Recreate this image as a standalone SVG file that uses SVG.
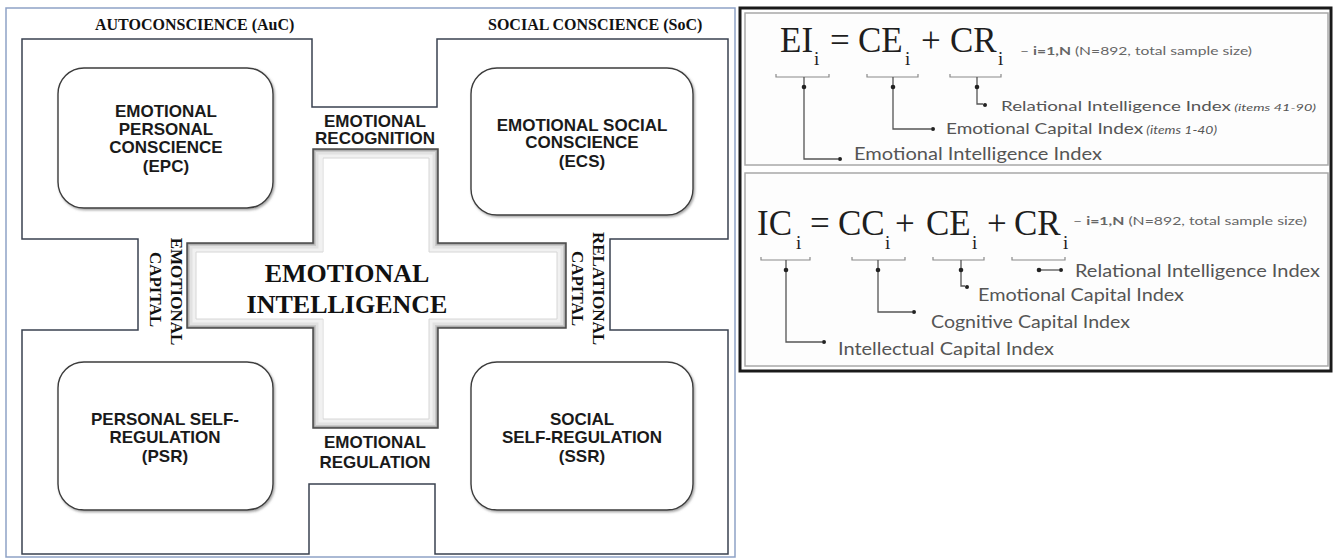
<svg xmlns="http://www.w3.org/2000/svg" width="1333" height="560" viewBox="0 0 1333 560">
<defs>
<style>
.hdr{font-family:"Liberation Serif",serif;font-weight:bold;font-size:16px;fill:#111}
.rot{font-family:"Liberation Serif",serif;font-weight:bold;font-size:17px;fill:#111;text-anchor:middle}
.big{font-family:"Liberation Serif",serif;font-weight:bold;font-size:26px;fill:#111;text-anchor:middle}
.nt{font-family:"Liberation Sans",sans-serif;font-weight:bold;font-size:17px;fill:#1a1a1a;text-anchor:middle}
.box{fill:#fff;stroke:#3c3c3c;stroke-width:1.4}
.outline{fill:#fff;stroke:#3a4250;stroke-width:1.5;stroke-linejoin:miter}
.eq{font-family:"Liberation Serif",serif;font-size:35px;fill:#1e1e1e}
.sub{font-family:"Liberation Serif",serif;font-size:19px;fill:#1e1e1e}
.note{font-family:"Lato",sans-serif;font-size:12px;fill:#666}
.lbl{font-family:"Lato",sans-serif;fill:#555}
.ln{fill:none;stroke:#555;stroke-width:1.3}
.br{fill:none;stroke:#8a8a8a;stroke-width:1.2}
.dot{fill:#222}
.cr{fill:none;stroke-linejoin:miter}
</style>
<filter id="sh" x="-10%" y="-10%" width="120%" height="120%">
<feDropShadow dx="1.2" dy="1.5" stdDeviation="1" flood-color="#8a8a8a" flood-opacity="0.8"/>
</filter>
<path id="crossShape" d="M313,149 H438 V243 H566 V328 H438 V428 H313 V328 H187 V243 H313 Z"/>
<clipPath id="crossClip"><use href="#crossShape"/></clipPath>
</defs>
<rect x="0" y="0" width="1333" height="560" fill="#fff"/>

<!-- left panel frame -->
<rect x="6" y="8" width="729" height="549" fill="none" stroke="#8ea2c6" stroke-width="1.5"/>

<g id="outline">
<path class="outline" d="M22,39 H312 V107 H437 V39 H728 V239 H610 V330 H728 V554 H435 V484 H309 V554 H22 V330 H138 V239 H22 Z"/>
</g>

<g id="headers">
<text class="hdr" x="95" y="30">AUTOCONSCIENCE (AuC)</text>
<text class="hdr" x="488" y="30">SOCIAL CONSCIENCE (SoC)</text>
</g>

<g id="cross">
<use href="#crossShape" fill="#fff"/>
<g clip-path="url(#crossClip)">
<use href="#crossShape" class="cr" stroke="#f1f1f1" stroke-width="18"/>
<use href="#crossShape" class="cr" stroke="#e2e2e2" stroke-width="11"/>
<use href="#crossShape" class="cr" stroke="#c9c9c9" stroke-width="6"/>
<use href="#crossShape" class="cr" stroke="#8f8f8f" stroke-width="3"/>
</g>
<use href="#crossShape" class="cr" stroke="#4a4a4a" stroke-width="1.5"/>
<path class="cr" d="M323,158 H429 V252 H557 V319 H429 V419 H323 V319 H196 V252 H323 Z" stroke="#d6d6d6" stroke-width="1"/>
<text class="big" x="347" y="282">EMOTIONAL</text>
<text class="big" x="347" y="313">INTELLIGENCE</text>
</g>

<g id="epc">
<rect class="box" x="58" y="68" width="215" height="140" rx="26" filter="url(#sh)"/>
<text class="nt" x="166" y="117">EMOTIONAL</text>
<text class="nt" x="166" y="135">PERSONAL</text>
<text class="nt" x="166" y="153">CONSCIENCE</text>
<text class="nt" x="166" y="172">(EPC)</text>
</g>

<g id="ecs">
<rect class="box" x="471" y="68" width="222" height="147" rx="26" filter="url(#sh)"/>
<text class="nt" x="582" y="131">EMOTIONAL SOCIAL</text>
<text class="nt" x="582" y="148">CONSCIENCE</text>
<text class="nt" x="582" y="167">(ECS)</text>
</g>

<g id="psr">
<rect class="box" x="58" y="362" width="215" height="148" rx="26" filter="url(#sh)"/>
<text class="nt" x="165" y="425">PERSONAL SELF-</text>
<text class="nt" x="165" y="443">REGULATION</text>
<text class="nt" x="165" y="462">(PSR)</text>
</g>

<g id="ssr">
<rect class="box" x="471" y="362" width="222" height="148" rx="26" filter="url(#sh)"/>
<text class="nt" x="582" y="425">SOCIAL</text>
<text class="nt" x="582" y="443">SELF-REGULATION</text>
<text class="nt" x="582" y="462">(SSR)</text>
</g>

<g id="recognition">
<text class="nt" x="375" y="127">EMOTIONAL</text>
<text class="nt" x="375" y="144">RECOGNITION</text>
</g>

<g id="regulation">
<text class="nt" x="375" y="448">EMOTIONAL</text>
<text class="nt" x="375" y="468">REGULATION</text>
</g>

<g id="emotional-capital">
<text class="rot" transform="translate(171,291.5) rotate(90)">EMOTIONAL</text>
<text class="rot" transform="translate(150,289.5) rotate(90)">CAPITAL</text>
</g>

<g id="relational-capital">
<text class="rot" transform="translate(593,288.5) rotate(90)">RELATIONAL</text>
<text class="rot" transform="translate(572,288.5) rotate(90)">CAPITAL</text>
</g>

<!-- right panel -->
<g id="formula-panel">
<rect x="740" y="8" width="591" height="363" fill="#fff" stroke="#1a1a1a" stroke-width="3"/>
<rect x="745" y="13" width="583" height="152" fill="#fdfdfd" stroke="#a8a8a8" stroke-width="1.5"/>
<rect x="745" y="173" width="583" height="193" fill="#fdfdfd" stroke="#a8a8a8" stroke-width="1.5"/>
</g>

<g id="formula-ei">
<text class="eq" x="780" y="52">EI</text>
<text class="sub" x="814" y="65">i</text>
<text class="eq" x="830" y="52">=</text>
<text class="eq" x="858" y="52">CE</text>
<text class="sub" x="905" y="65">i</text>
<text class="eq" x="921" y="52">+</text>
<text class="eq" x="950" y="52">CR</text>
<text class="sub" x="998" y="65">i</text>
<text class="note" x="1020" y="55" textLength="232" lengthAdjust="spacingAndGlyphs">– <tspan font-weight="bold">i=1,N</tspan> (N=892, total sample size)</text>
<text class="lbl" x="1001" y="111" font-size="13" textLength="315" lengthAdjust="spacingAndGlyphs">Relational Intelligence Index<tspan font-style="italic" font-size="10"> (items 41-90)</tspan></text>
<text class="lbl" x="946" y="134" font-size="15" textLength="271" lengthAdjust="spacingAndGlyphs">Emotional Capital Index<tspan font-style="italic" font-size="11"> (items 1-40)</tspan></text>
<text class="lbl" x="854" y="160" font-size="17" textLength="248" lengthAdjust="spacingAndGlyphs">Emotional Intelligence Index</text>
</g>

<g id="formula-ic">
<text class="eq" x="757" y="235">IC</text>
<text class="sub" x="796" y="249">i</text>
<text class="eq" x="810" y="235">=</text>
<text class="eq" x="838" y="235">CC</text>
<text class="sub" x="885" y="249">i</text>
<text class="eq" x="895" y="235">+</text>
<text class="eq" x="926" y="235">CE</text>
<text class="sub" x="972" y="249">i</text>
<text class="eq" x="987" y="235">+</text>
<text class="eq" x="1014" y="235">CR</text>
<text class="sub" x="1063" y="249">i</text>
<text class="note" x="1073" y="225" textLength="234" lengthAdjust="spacingAndGlyphs">– <tspan font-weight="bold">i=1,N</tspan> (N=892, total sample size)</text>
<text class="lbl" x="1075" y="277" font-size="17" textLength="245" lengthAdjust="spacingAndGlyphs">Relational Intelligence Index</text>
<text class="lbl" x="978" y="301" font-size="17" textLength="206" lengthAdjust="spacingAndGlyphs">Emotional Capital Index</text>
<text class="lbl" x="931" y="328" font-size="17" textLength="199" lengthAdjust="spacingAndGlyphs">Cognitive Capital Index</text>
<text class="lbl" x="838" y="355" font-size="17" textLength="216" lengthAdjust="spacingAndGlyphs">Intellectual Capital Index</text>
</g>

<g id="connectors">
<path class="br" d="M776,74 V77 H829 V74"/>
<path class="br" d="M867,74 V77 H918 V74"/>
<path class="br" d="M950,74 V77 H1001 V74"/>
<path class="ln" d="M804,77 V159 H838"/>
<path class="ln" d="M893,77 V129 H931"/>
<path class="ln" d="M977,77 V104 H983"/>
<circle class="dot" cx="804" cy="87" r="2.3"/>
<circle class="dot" cx="893" cy="87" r="2.3"/>
<circle class="dot" cx="977" cy="87" r="2.3"/>
<circle class="dot" cx="840" cy="159" r="2"/>
<circle class="dot" cx="933" cy="129" r="2"/>
<circle class="dot" cx="985" cy="105" r="2"/>

<path class="br" d="M761,257 V260 H810 V257"/>
<path class="br" d="M852,257 V260 H905 V257"/>
<path class="br" d="M933,257 V260 H984 V257"/>
<path class="br" d="M1012,257 V260 H1065 V257"/>
<path class="ln" d="M786,260 V342 H822"/>
<path class="ln" d="M878,260 V312 H912"/>
<path class="ln" d="M961,260 V286 H965"/>
<path class="ln" d="M1039,270 H1059"/>
<circle class="dot" cx="786" cy="270" r="2.3"/>
<circle class="dot" cx="878" cy="270" r="2.3"/>
<circle class="dot" cx="961" cy="270" r="2.3"/>
<circle class="dot" cx="1039" cy="270" r="2.3"/>
<circle class="dot" cx="824" cy="342" r="2"/>
<circle class="dot" cx="914" cy="312" r="2"/>
<circle class="dot" cx="967" cy="287" r="2"/>
<circle class="dot" cx="1061" cy="270" r="2"/>
</g>
</svg>
